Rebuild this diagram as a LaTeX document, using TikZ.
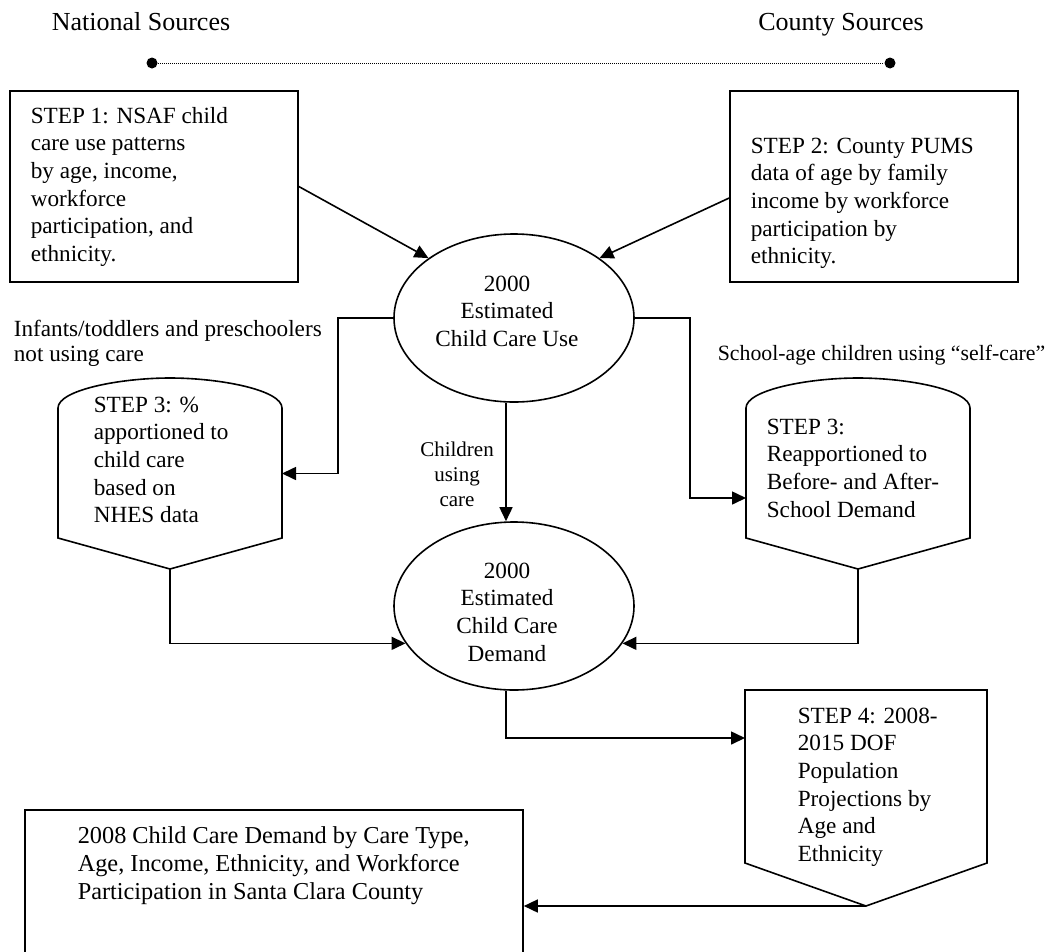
\documentclass[tikz,border=0pt]{standalone}
\usepackage{fontspec}
\setmainfont{Liberation Serif}
\usetikzlibrary{arrows.meta,calc,shapes.geometric}
\newcommand\mltl[1]{\begin{tabular}[t]{@{}l@{}}#1\end{tabular}}
\newcommand\mltc[1]{\begin{tabular}[t]{@{}c@{}}#1\end{tabular}}
\begin{document}
\begin{tikzpicture}[x=1pt,y=-1pt,line width=1.6pt,
  arr/.style={-{Triangle[length=14pt,width=13pt]}},
  txt/.style={inner sep=0,font=\fontsize{23.2}{27.7}\selectfont},
  lbl/.style={inner sep=0,font=\fontsize{23.2}{25}\selectfont},
  small/.style={inner sep=0,font=\fontsize{21}{25}\selectfont},
  title/.style={inner sep=0,font=\fontsize{26}{30}\selectfont},
  boxx/.style={draw,rectangle,inner sep=0},
  frame/.style={rectangle,inner sep=0,outer sep=0,draw=none},
  oval/.style={draw,ellipse,inner sep=0,minimum width=240pt,minimum height=168pt},
  dot/.style={circle,fill,inner sep=0,minimum size=11pt}]
\useasboundingbox (0,0) rectangle (1052,951);
\clip (0,0) rectangle (1052,951);

% titles and source line
\node[title,anchor=base] (tn) at (141,30) {National Sources};
\node[title,anchor=base] (tc) at (841,30) {County Sources};
\node[dot] (d1) at (152,63) {};
\node[dot] (d2) at (890,63) {};
\draw[line width=1pt,dash pattern=on 1pt off 1pt] (d1) -- (d2);

% shapes
\node[boxx,minimum width=288pt,minimum height=191pt] (b1) at (154,186.5) {};
\node[boxx,minimum width=288pt,minimum height=191pt] (b2) at (874,186.5) {};
\node[oval] (e1) at (514,318) {};
\node[oval] (e2) at (514,606) {};
\node[frame,minimum width=224pt,minimum height=191pt] (s3l) at (170,473.5) {};
\node[frame,minimum width=224pt,minimum height=191pt] (s3r) at (858,473.5) {};
\node[frame,minimum width=242pt,minimum height=216pt] (b4) at (866,798) {};
\node[boxx,minimum width=498pt,minimum height=200pt] (b5) at (274,910) {};

\foreach \s in {s3l,s3r}{
  \draw ($(\s.north west)+(0,30)$) -- ($(\s.south west)+(0,-31)$) -- (\s.south)
    -- ($(\s.south east)+(0,-31)$) -- ($(\s.north east)+(0,30)$)
    .. controls +(0,-18) and +(50,0) .. (\s.north)
    .. controls +(-50,0) and +(0,-18) .. cycle;
}
\draw (b4.north west) -- ($(b4.south west)+(0,-43)$) -- (b4.south)
  -- ($(b4.south east)+(0,-43)$) -- (b4.north east) -- cycle;

% texts
\node[txt,anchor=base west] (t1) at (30,123) {\mltl{STEP 1: NSAF child\\care use patterns\\by age, income,\\workforce\\participation, and\\ethnicity.}};
\node[txt,anchor=base west] (t2) at (750,153) {\mltl{STEP 2: County PUMS\\data of age by family\\income by workforce\\participation by\\ethnicity.}};
\node[txt,anchor=base] (te1) at (507,291) {\mltc{2000\\Estimated\\Child Care Use}};
\node[txt,anchor=base] (te2) at (507,578) {\mltc{2000\\Estimated\\Child Care\\Demand}};
\node[txt,anchor=base west] (t3l) at (93,412) {\mltl{STEP 3: \%\\apportioned to\\child care\\based on\\NHES data}};
\node[txt,anchor=base west] (t3r) at (766,434) {\mltl{STEP 3:\\Reapportioned to\\Before- and After-\\School Demand}};
\node[txt,anchor=base west] (t4) at (797,723) {\mltl{STEP 4: 2008-\\2015 DOF\\Population\\Projections by\\Age and\\Ethnicity}};
\node[txt,anchor=base west,font=\fontsize{24.3}{28.3}\selectfont] (t5) at (77,843) {\mltl{2008 Child Care Demand by Care Type,\\Age, Income, Ethnicity, and Workforce\\Participation in Santa Clara County}};
\node[lbl,anchor=base west] (l1) at (13,336) {\mltl{Infants/toddlers and preschoolers\\not using care}};
\node[lbl,anchor=base west,font=\fontsize{21.8}{25}\selectfont] (l2) at (717,360) {School-age children using “self-care”};
\node[small,anchor=base] (l3) at (457,456) {\mltc{Children\\using\\care}};

% connectors
\draw[arr] (b1.east) -- (e1.145);
\draw[arr] ($(b2.west)+(0,11.5)$) -- (e1.35);
\draw[arr] (e1.west) -- ++(-55,0) |- (s3l.east);
\draw[arr] (e1.east) -- ++(55,0) |- ($(s3r.west)+(0,24.5)$);
\draw[arr] ($(e1.south)+(-8,0)$) -- ($(e2.north)+(-8,0)$);
\draw[arr] (s3l.south) |- (e2.199);
\draw[arr] (s3r.south) |- (e2.-19);
\draw[arr] ($(e2.south)+(-8,0)$) |- ($(b4.north west)+(0,48)$);
\draw[arr] (b4.south) -- (b5.east |- b4.south);
\end{tikzpicture}
\end{document}
